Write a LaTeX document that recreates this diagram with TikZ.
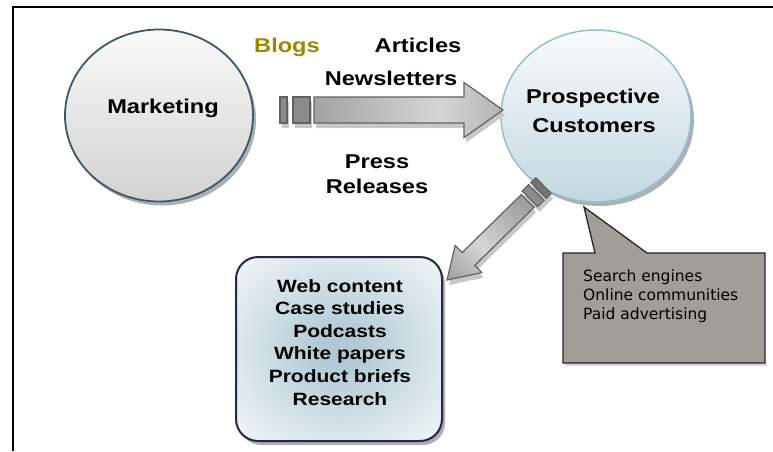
\documentclass[tikz,border=0pt]{standalone}
\usepackage{fontspec}
\setmainfont{Liberation Sans}
\newfontfamily\lblfont{Liberation Sans}[FakeStretch=1.18]
\newfontfamily\notefont{DejaVu Sans}
\usetikzlibrary{shapes.geometric,shadows}

% palette
\definecolor{mktborder}{RGB}{61,88,102}
\definecolor{mkttop}{RGB}{250,250,250}
\definecolor{mktbot}{RGB}{210,210,210}
\definecolor{pcborder}{RGB}{150,190,204}
\definecolor{pctop}{RGB}{249,251,252}
\definecolor{pcbot}{RGB}{194,216,225}
\definecolor{boxborder}{RGB}{40,40,64}
\definecolor{boxin}{RGB}{176,201,212}
\definecolor{boxout}{RGB}{244,248,250}
\definecolor{callfill}{RGB}{161,158,153}
\definecolor{blogsgold}{RGB}{158,134,0}
\definecolor{shadowgray}{RGB}{170,176,180}
\definecolor{arrowdark}{RGB}{124,124,124}
\definecolor{arrowlight}{RGB}{214,214,214}
\definecolor{arrowend}{RGB}{128,128,128}

% soft glow for the content box
\pgfdeclareradialshading{boxglow}{\pgfpoint{0bp}{0bp}}{color(0bp)=(boxin); color(4bp)=(boxin); color(36bp)=(boxout); color(50bp)=(boxout)}
% tail-to-tip gradient of the block arrows
\pgfdeclarehorizontalshading{arrowgrad}{100bp}{color(0bp)=(arrowdark); color(58bp)=(arrowlight); color(100bp)=(arrowend)}

\tikzset{
  lbl/.style={font=\lblfont\bfseries\fontsize{20}{28}\selectfont, inner sep=0pt, anchor=base},
  listtext/.style={font=\lblfont\bfseries\fontsize{17.8}{22.6}\selectfont, align=center, inner sep=0pt},
  note/.style={font=\notefont\fontsize{15.5}{19}\selectfont, inner sep=0pt, anchor=base west},
  bubble/.style={ellipse, inner sep=0pt, minimum width=190pt, minimum height=172pt},
  arrowbody/.style={draw=black!62, line width=1.2pt, shading=arrowgrad},
  tabfill/.style={draw=black!62, line width=1.2pt, fill=black!45},
  castshadow/.style={fill=black!22, draw=none},
  roundshadow/.style={drop shadow={shadow xshift=3pt, shadow yshift=-4pt, fill=shadowgray, opacity=1}},
}

\begin{document}
\begin{tikzpicture}[x=1pt, y=-1pt]
\useasboundingbox (0,0) rectangle (773,451);

% page frame
\draw[line width=2pt] (773,7) -- (13,7) -- (13,451);

% the two bubbles
\node (mkt) [bubble, minimum width=188pt, draw=mktborder, line width=1.8pt,
  top color=mkttop, bottom color=mktbot, roundshadow] at (159,115.5) {};
\node (pc) [bubble, draw=pcborder, line width=1.5pt,
  top color=pctop, bottom color=pcbot, roundshadow] at (596,116) {};

% horizontal block arrow: shadow, tabs, body
\begin{scope}[shift={(2,5)}]
  \fill[castshadow] (280,97) rectangle (287,123);
  \fill[castshadow] (293,97) rectangle (310,123);
  \fill[castshadow] (314,97) -- (464,97) -- (464,82.5) -- (503,110) -- (464,137.5) -- (464,123) -- (314,123) -- cycle;
\end{scope}
\draw[tabfill] (280,97) rectangle (287,123);
\draw[tabfill] (293,97) rectangle (310,123);
\draw[arrowbody] (314,97) -- (464,97) -- (464,82.5) -- (503,110) -- (464,137.5) -- (464,123) -- (314,123) -- cycle;

% diagonal block arrow toward the content box
\begin{scope}[shift={(449,285)}, rotate=224.4]
  \fill[castshadow] (-135,-11) rectangle (-116,11);
  \fill[castshadow] (-113,-9) -- (-30,-9) -- (-30,-19) -- (0,0) -- (-30,19) -- (-30,9) -- (-113,9) -- cycle;
\end{scope}
\begin{scope}[shift={(447,280)}, rotate=224.4]
  \draw[tabfill, fill=black!55] (-135,-11) rectangle (-128,11);
  \draw[tabfill] (-125,-11) rectangle (-116,11);
  \draw[arrowbody, shading angle=224.4] (-113,-9) -- (-30,-9) -- (-30,-19) -- (0,0) -- (-30,19) -- (-30,9) -- (-113,9) -- cycle;
\end{scope}

% content box
\node (box) [draw=boxborder, line width=2pt, rounded corners=22pt,
  minimum width=206pt, minimum height=184pt, shading=boxglow, roundshadow] at (339,349) {};
\node (boxtext) [listtext, anchor=north] at (340,279)
  {Web content\\Case studies\\Podcasts\\White papers\\Product briefs\\Research};

% callout with pointer toward the customers bubble
\fill[black!15] (565,363) rectangle (767,366);
\draw[fill=callfill, draw=black!85, line width=1.3pt]
  (563,253) -- (595,253) -- (584,207) -- (647,253) -- (765,253) -- (765,363) -- (563,363) -- cycle;
\node (note1) [note] at (583,281) {Search engines};
\node (note2) [note] at (583,300) {Online communities};
\node (note3) [note] at (583,319) {Paid advertising};

% labels
\node (mktlbl) [lbl] at (163,113) {Marketing};
\node (pclbla) [lbl] at (593,103) {Prospective};
\node (pclblb) [lbl] at (594,132) {Customers};
\node (blogs) [lbl, text=blogsgold] at (287,52) {Blogs};
\node (articles) [lbl] at (418,52) {Articles};
\node (newsletters) [lbl] at (391,85) {Newsletters};
\node (press) [lbl] at (377,168) {Press};
\node (releases) [lbl] at (377,193) {Releases};
\end{tikzpicture}
\end{document}
